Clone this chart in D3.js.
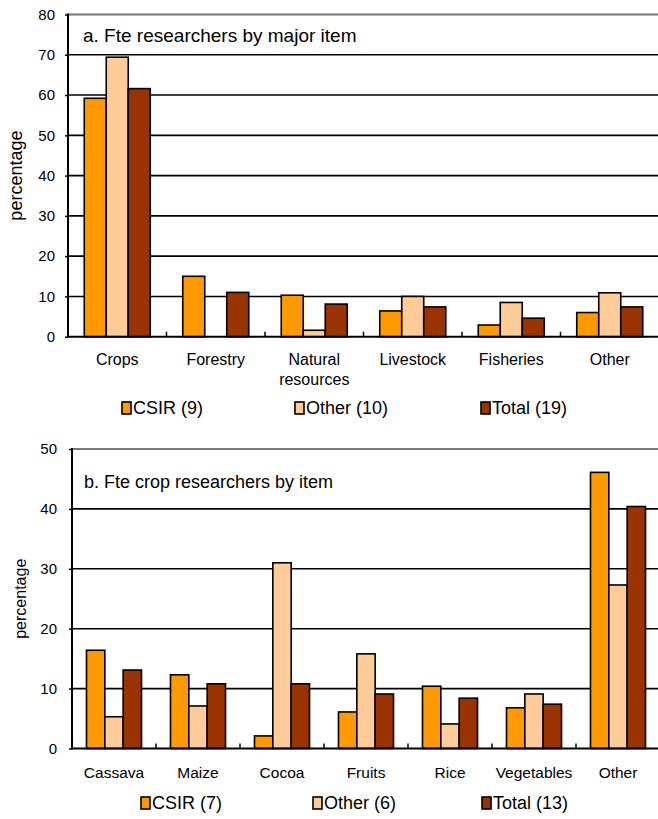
<!DOCTYPE html>
<html>
<head>
<meta charset="utf-8">
<script src="https://cdn.jsdelivr.net/npm/d3@7"></script>
<style>
  body { margin: 0; background: #fff; }
  svg { display: block; font-family: "Liberation Sans", Arial, sans-serif; }
</style>
</head>
<body>
<svg id="chart" width="658" height="819"></svg>
<script>
// Panel a data
const categoriesA = ["Crops", "Forestry", "Natural resources", "Livestock", "Fisheries", "Other"];
const csirA = [59.2, 15, 10.3, 6.4, 2.9, 6];
const otherA = [69.4, 0, 1.6, 10, 8.5, 10.9];
const totalA = [61.6, 11, 8.1, 7.4, 4.6, 7.4];
const seriesNamesA = ["CSIR (9)", "Other (10)", "Total (19)"];
const yTicksA = [0, 10, 20, 30, 40, 50, 60, 70, 80];

// Panel b data
const categoriesB = ["Cassava", "Maize", "Cocoa", "Fruits", "Rice", "Vegetables", "Other"];
const csirB = [16.4, 12.3, 2.1, 6.1, 10.4, 6.8, 46.1];
const otherB = [5.3, 7.1, 31, 15.8, 4.1, 9.1, 27.3];
const totalB = [13.1, 10.8, 10.8, 9.1, 8.4, 7.4, 40.4];
const seriesNamesB = ["CSIR (7)", "Other (6)", "Total (13)"];
const yTicksB = [0, 10, 20, 30, 40, 50];

const colors = ["#ff9900", "#ffcc99", "#993300"];

const svg = d3.select("#chart");

function drawPanel(cfg) {
  const g = svg.append("g");
  const x = d3.scaleBand().domain(cfg.categories).range([cfg.left, cfg.right]).paddingInner(0).paddingOuter(0);
  const y = d3.scaleLinear().domain([0, cfg.yMax]).range([cfg.bottom, cfg.top]);
  const groupW = x.bandwidth() * cfg.groupFrac;
  const x1 = d3.scaleBand().domain([0, 1, 2]).range([0, groupW]);

  // gridlines
  g.selectAll(".grid")
    .data(cfg.yTicks.filter((t) => t > 0 && t < cfg.yMax))
    .join("line")
    .attr("x1", cfg.left).attr("x2", cfg.right)
    .attr("y1", (d) => y(d)).attr("y2", (d) => y(d))
    .attr("stroke", "#000").attr("stroke-width", 1.6);
  g.append("line")
    .attr("x1", cfg.left).attr("x2", cfg.right)
    .attr("y1", y(cfg.yMax)).attr("y2", y(cfg.yMax))
    .attr("stroke", "#777").attr("stroke-width", 2);

  // subtitle
  g.append("text")
    .attr("x", cfg.left + cfg.subDx)
    .attr("y", cfg.subY)
    .attr("font-size", cfg.subSize)
    .attr("fill", "#000")
    .text(cfg.subtitle);

  // bars
  const rows = cfg.categories.map((c, i) => ({ cat: c, vals: cfg.series.map((s) => s[i]) }));
  const grp = g.selectAll(".cat")
    .data(rows)
    .join("g")
    .attr("transform", (d) => `translate(${x(d.cat) + (x.bandwidth() - groupW) / 2},0)`);
  grp.selectAll("rect")
    .data((d) => d.vals.map((v, k) => ({ v, k })).filter((e) => e.v > 0))
    .join("rect")
    .attr("x", (e) => x1(e.k))
    .attr("y", (e) => y(e.v))
    .attr("width", x1.bandwidth())
    .attr("height", (e) => y(0) - y(e.v))
    .attr("fill", (e) => colors[e.k])
    .attr("stroke", "#000")
    .attr("stroke-width", 1.6);

  // y axis
  const yAxis = g.append("g")
    .attr("transform", `translate(${cfg.left},0)`)
    .call(d3.axisLeft(y).tickValues(cfg.yTicks).tickSize(3).tickPadding(cfg.tickPad));
  yAxis.select(".domain").remove();
  yAxis.selectAll(".tick line").attr("stroke", "#000").attr("stroke-width", 1.5);
  yAxis.selectAll("text")
    .attr("font-size", cfg.tickSize)
    .attr("font-family", "Liberation Sans, Arial, sans-serif")
    .attr("fill", "#000");
  g.append("line")
    .attr("x1", cfg.left).attr("x2", cfg.left)
    .attr("y1", y(cfg.yMax) - 1).attr("y2", y(0) + 1)
    .attr("stroke", "#000").attr("stroke-width", 2);

  // x axis baseline and boundary ticks
  g.append("line")
    .attr("x1", cfg.left).attr("x2", cfg.right)
    .attr("y1", y(0)).attr("y2", y(0))
    .attr("stroke", "#000").attr("stroke-width", 2);
  g.selectAll(".xb")
    .data(cfg.categories.slice(1))
    .join("line")
    .attr("x1", (d) => x(d)).attr("x2", (d) => x(d))
    .attr("y1", y(0)).attr("y2", y(0) - 5)
    .attr("stroke", "#000").attr("stroke-width", 1.5);

  const xAxis = g.append("g")
    .attr("transform", `translate(0,${y(0)})`)
    .call(d3.axisBottom(x).tickSize(0).tickPadding(cfg.xPad));
  xAxis.select(".domain").remove();
  xAxis.selectAll("text")
    .attr("font-size", cfg.catSize)
    .attr("font-family", "Liberation Sans, Arial, sans-serif")
    .attr("fill", "#000")
    .each(function (d) {
      const words = d.split(" ");
      if (words.length > 1) {
        const t = d3.select(this).text(null);
        words.forEach((w, i) => {
          t.append("tspan").attr("x", 0).attr("dy", i === 0 ? "0.71em" : "1.25em").text(w);
        });
        t.attr("dy", null);
      }
    });

  // y title
  g.append("text")
    .attr("transform", `translate(${cfg.yTitleX},${(y(0) + y(cfg.yMax)) / 2}) rotate(-90)`)
    .attr("text-anchor", "middle")
    .attr("font-size", cfg.yTitleSize)
    .attr("fill", "#000")
    .text("percentage");

  // legend
  const leg = g.selectAll(".leg")
    .data(cfg.seriesNames)
    .join("g")
    .attr("transform", (d, i) => `translate(${cfg.legendX[i]},${cfg.legendY})`);
  leg.append("rect")
    .attr("x", 0).attr("y", -6)
    .attr("width", 9).attr("height", 12)
    .attr("fill", (d, i) => colors[i])
    .attr("stroke", "#000").attr("stroke-width", 1.6);
  leg.append("text")
    .attr("x", 11)
    .attr("y", 0)
    .attr("dy", "0.36em")
    .attr("font-size", cfg.legendSize)
    .attr("fill", "#000")
    .text((d) => d);
}

drawPanel({
  categories: categoriesA,
  series: [csirA, otherA, totalA],
  seriesNames: seriesNamesA,
  yTicks: yTicksA,
  yMax: 80,
  left: 68, right: 659, top: 14.5, bottom: 336.7,
  groupFrac: 0.67,
  subtitle: "a. Fte researchers by major item",
  subDx: 15, subY: 42, subSize: 19,
  tickSize: 15, tickPad: 10,
  catSize: 16, xPad: 17,
  yTitleX: 22, yTitleSize: 18,
  legendX: [122, 295, 481], legendY: 408, legendSize: 18
});

drawPanel({
  categories: categoriesB,
  series: [csirB, otherB, totalB],
  seriesNames: seriesNamesB,
  yTicks: yTicksB,
  yMax: 50,
  left: 72, right: 660, top: 449, bottom: 748.5,
  groupFrac: 0.655,
  subtitle: "b. Fte crop researchers by item",
  subDx: 12, subY: 488, subSize: 18,
  tickSize: 15, tickPad: 12,
  catSize: 15.5, xPad: 18,
  yTitleX: 26, yTitleSize: 16,
  legendX: [141, 313, 482], legendY: 803, legendSize: 18
});
</script>
</body>
</html>
